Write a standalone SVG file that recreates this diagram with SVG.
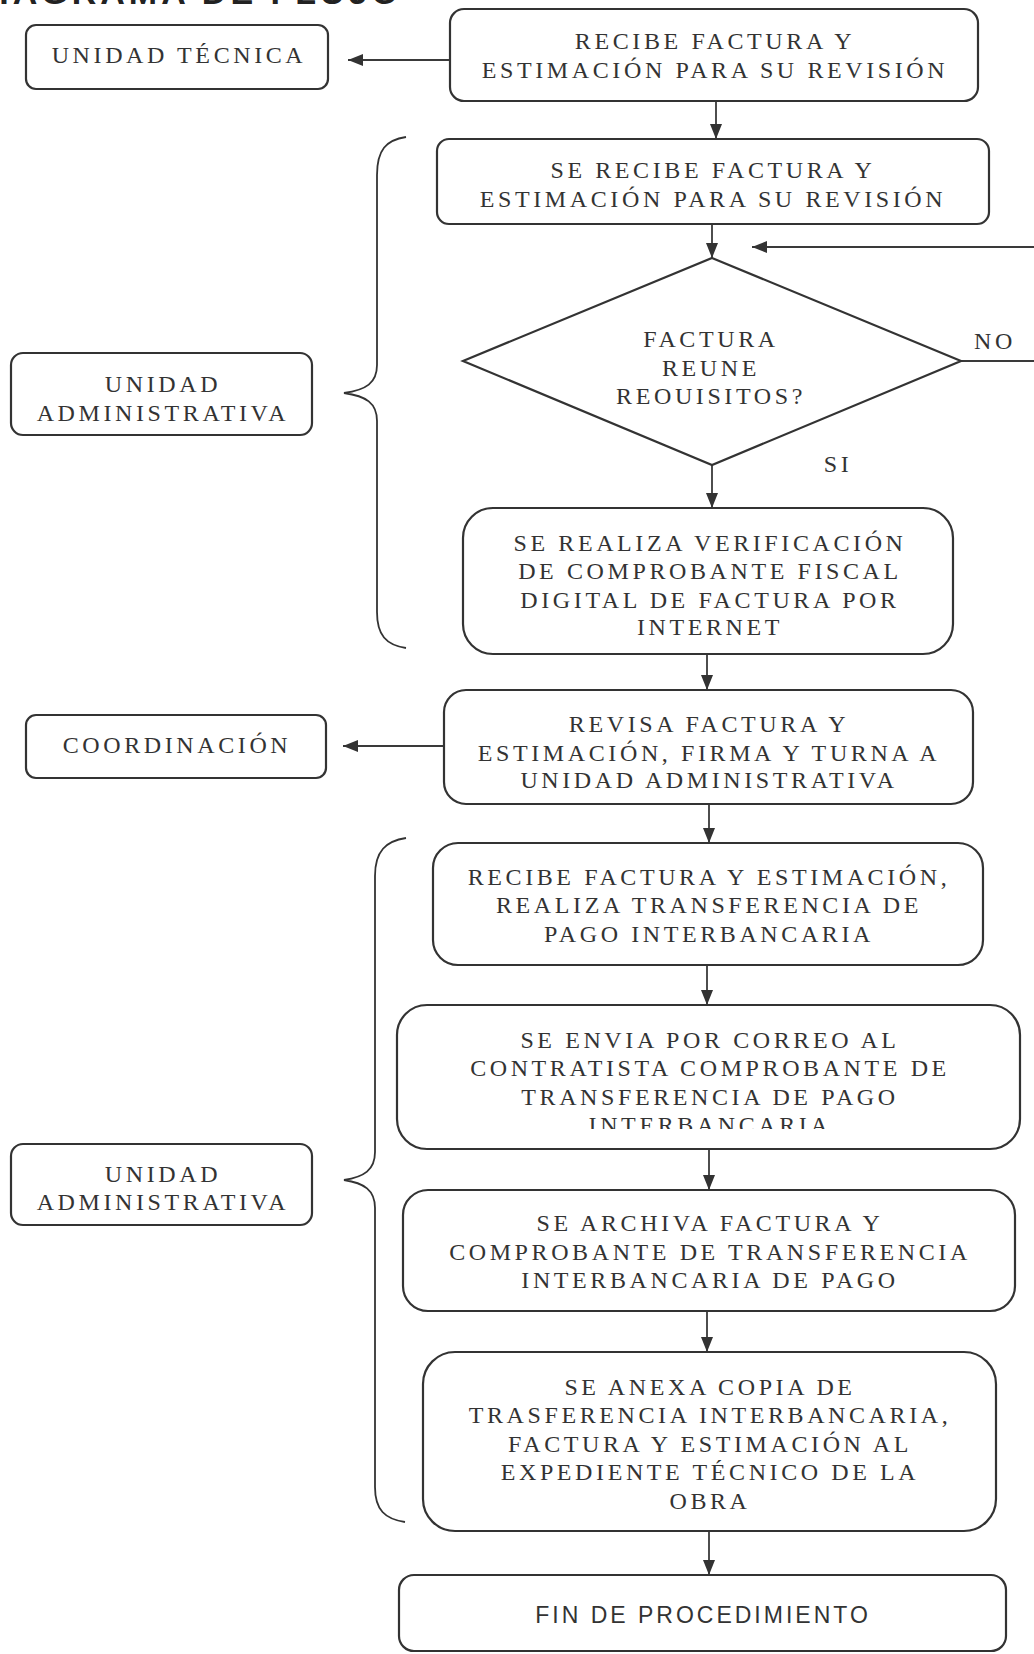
<svg xmlns="http://www.w3.org/2000/svg" width="1034" height="1654" viewBox="0 0 1034 1654">
<style>
.box{fill:#fff;stroke:#333;stroke-width:2.2}
.t{font-family:"Liberation Serif","Times New Roman",serif;font-size:24px;letter-spacing:3.6px;fill:#333;text-anchor:middle}
.s{font-family:"Liberation Sans",Arial,sans-serif;font-size:23px;letter-spacing:3px;fill:#333;text-anchor:middle}
.ln{fill:none;stroke:#3a3a3a;stroke-width:1.8}
.br{fill:none;stroke:#333;stroke-width:1.8}
</style>
<defs>
<marker id="ah" markerUnits="userSpaceOnUse" markerWidth="16" markerHeight="12" refX="15" refY="6" orient="auto">
<path d="M0,0 L15,6 L0,12 Z" fill="#333"/>
</marker>
<clipPath id="cut"><rect x="390" y="1100" width="640" height="29"/></clipPath>
</defs>
<rect width="1034" height="1654" fill="#fff"/>
<text x="402" y="4" font-family="'Liberation Sans',Arial,sans-serif" font-weight="bold" font-size="34" letter-spacing="4" fill="#222" text-anchor="end">DIAGRAMA DE FLUJO</text>

<g id="connectors">
<path class="ln" d="M450,60 H348" marker-end="url(#ah)"/>
<path class="ln" d="M716,101 V139" marker-end="url(#ah)"/>
<path class="ln" d="M712,224 V258" marker-end="url(#ah)"/>
<path class="ln" d="M961,361 H1040 V247 H752" marker-end="url(#ah)"/>
<path class="ln" d="M712,465 V508" marker-end="url(#ah)"/>
<path class="ln" d="M707,654 V690" marker-end="url(#ah)"/>
<path class="ln" d="M444,746 H343" marker-end="url(#ah)"/>
<path class="ln" d="M709,804 V843" marker-end="url(#ah)"/>
<path class="ln" d="M707,965 V1005" marker-end="url(#ah)"/>
<path class="ln" d="M709,1149 V1190" marker-end="url(#ah)"/>
<path class="ln" d="M707,1311 V1352" marker-end="url(#ah)"/>
<path class="ln" d="M709,1531 V1575" marker-end="url(#ah)"/>
<text class="t" x="995" y="349">NO</text>
<text class="t" x="838" y="472">SI</text>
</g>

<g id="brace1"><path class="br" d="M406,137 C386,140 377,150 377,175 L377,365 C377,383 366,390 344,393 C366,396 377,403 377,421 L377,612 C377,635 386,645 406,648"/></g>
<g id="brace2"><path class="br" d="M406,838 C386,841 375,851 375,876 L375,1152 C375,1170 364,1177 344,1180 C364,1183 375,1190 375,1208 L375,1487 C375,1510 385,1519 405,1522"/></g>

<g id="unidad-tecnica">
<rect class="box" x="26" y="25" width="302" height="64" rx="10"/>
<text class="t" x="179" y="63">UNIDAD TÉCNICA</text>
</g>
<g id="n1">
<rect class="box" x="450" y="9" width="528" height="92" rx="14"/>
<text class="t" x="715" y="49">RECIBE FACTURA Y</text>
<text class="t" x="715" y="78">ESTIMACIÓN PARA SU REVISIÓN</text>
</g>
<g id="n2">
<rect class="box" x="437" y="139" width="552" height="85" rx="12"/>
<text class="t" x="713" y="178">SE RECIBE FACTURA Y</text>
<text class="t" x="713" y="207">ESTIMACIÓN PARA SU REVISIÓN</text>
</g>
<g id="decision">
<polygon class="box" points="712,258 961,361 712,465 463,361"/>
<text class="t" x="711" y="347">FACTURA</text>
<text class="t" x="711" y="376">REUNE</text>
<text class="t" x="711" y="404">REOUISITOS?</text>
</g>
<g id="unidad-admin-1">
<rect class="box" x="11" y="353" width="301" height="82" rx="12"/>
<text class="t" x="163" y="392">UNIDAD</text>
<text class="t" x="163" y="421">ADMINISTRATIVA</text>
</g>
<g id="n3">
<rect class="box" x="463" y="508" width="490" height="146" rx="30"/>
<text class="t" x="710" y="551">SE REALIZA VERIFICACIÓN</text>
<text class="t" x="710" y="579">DE COMPROBANTE FISCAL</text>
<text class="t" x="710" y="608">DIGITAL DE FACTURA POR</text>
<text class="t" x="710" y="635">INTERNET</text>
</g>
<g id="coordinacion">
<rect class="box" x="26" y="715" width="300" height="63" rx="10"/>
<text class="t" x="177" y="753">COORDINACIÓN</text>
</g>
<g id="n4">
<rect class="box" x="444" y="690" width="529" height="114" rx="22"/>
<text class="t" x="709" y="732">REVISA FACTURA Y</text>
<text class="t" x="709" y="761">ESTIMACIÓN, FIRMA Y TURNA A</text>
<text class="t" x="709" y="788">UNIDAD ADMINISTRATIVA</text>
</g>
<g id="n5">
<rect class="box" x="433" y="843" width="550" height="122" rx="25"/>
<text class="t" x="709" y="885">RECIBE FACTURA Y ESTIMACIÓN,</text>
<text class="t" x="709" y="913">REALIZA TRANSFERENCIA DE</text>
<text class="t" x="709" y="942">PAGO INTERBANCARIA</text>
</g>
<g id="n6">
<rect class="box" x="397" y="1005" width="623" height="144" rx="30"/>
<text class="t" x="710" y="1048">SE ENVIA POR CORREO AL</text>
<text class="t" x="710" y="1076">CONTRATISTA COMPROBANTE DE</text>
<text class="t" x="710" y="1105">TRANSFERENCIA DE PAGO</text>
<text class="t" x="710" y="1133" clip-path="url(#cut)">INTERBANCARIA</text>
</g>
<g id="unidad-admin-2">
<rect class="box" x="11" y="1144" width="301" height="81" rx="12"/>
<text class="t" x="163" y="1182">UNIDAD</text>
<text class="t" x="163" y="1210">ADMINISTRATIVA</text>
</g>
<g id="n7">
<rect class="box" x="403" y="1190" width="612" height="121" rx="25"/>
<text class="t" x="710" y="1231">SE ARCHIVA FACTURA Y</text>
<text class="t" x="710" y="1260">COMPROBANTE DE TRANSFERENCIA</text>
<text class="t" x="710" y="1288">INTERBANCARIA DE PAGO</text>
</g>
<g id="n8">
<rect class="box" x="423" y="1352" width="573" height="179" rx="32"/>
<text class="t" x="710" y="1395">SE ANEXA COPIA DE</text>
<text class="t" x="710" y="1423">TRASFERENCIA INTERBANCARIA,</text>
<text class="t" x="710" y="1452">FACTURA Y ESTIMACIÓN AL</text>
<text class="t" x="710" y="1480">EXPEDIENTE TÉCNICO DE LA</text>
<text class="t" x="710" y="1509">OBRA</text>
</g>
<g id="fin">
<rect class="box" x="399" y="1575" width="607" height="76" rx="15"/>
<text class="s" x="703" y="1623">FIN DE PROCEDIMIENTO</text>
</g>
</svg>
